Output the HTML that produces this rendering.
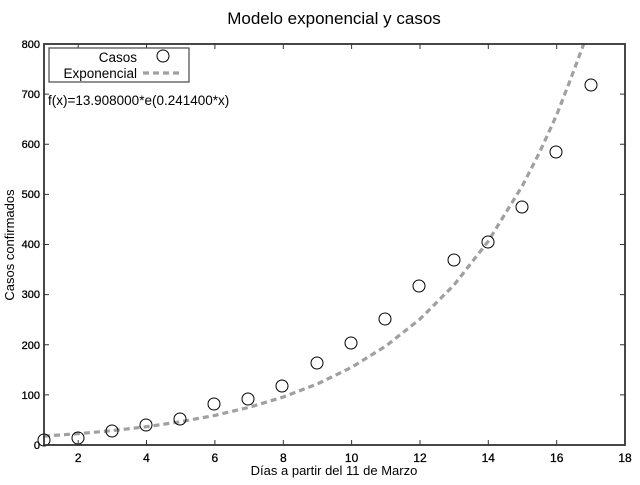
<!DOCTYPE html>
<html><head><meta charset="utf-8"><style>
body{margin:0;background:#fff;}
svg text{font-family:"Liberation Sans",sans-serif;}
</style></head><body>
<svg width="640" height="480" viewBox="0 0 640 480" xmlns="http://www.w3.org/2000/svg">
<rect width="640" height="480" fill="#fff"/>
<text x="334" y="24" font-size="17" text-anchor="middle">Modelo exponencial y casos</text>
<polyline fill="none" stroke="#a0a0a0" stroke-width="3.2" stroke-dasharray="6,4" points="44,436.1 78.2,433.7 112.4,430.6 146.5,426.7 180.7,421.7 214.9,415.4 249.1,407.3 283.3,397 317.4,383.9 351.6,367.3 385.8,346.1 420,319.1 454.2,284.8 488.3,241.1 522.5,185.6 539.6,152.3 556.7,114.8 570.4,79.7 583.7,44"/>
<g fill="none" stroke="#000" stroke-width="1">
<circle cx="44" cy="440" r="6"/><circle cx="78" cy="438" r="6"/><circle cx="112" cy="431" r="6"/><circle cx="146" cy="425" r="6"/><circle cx="180" cy="419" r="6"/><circle cx="214" cy="404" r="6"/><circle cx="248" cy="399" r="6"/><circle cx="282" cy="386" r="6"/><circle cx="317" cy="363" r="6"/><circle cx="351" cy="343" r="6"/><circle cx="385" cy="319" r="6"/><circle cx="419" cy="286" r="6"/><circle cx="454" cy="260" r="6"/><circle cx="488" cy="242" r="6"/><circle cx="522" cy="207" r="6"/><circle cx="556" cy="152" r="6"/><circle cx="591" cy="85" r="6"/>
</g>
<rect x="44" y="44" width="581" height="401" fill="none" stroke="#333" stroke-width="1.8"/>
<g stroke="#333" stroke-width="1">
<path d="M78.2,445v-5M146.5,445v-5M214.9,445v-5M283.3,445v-5M351.6,445v-5M420,445v-5M488.3,445v-5M556.7,445v-5M78.2,44v5M146.5,44v5M214.9,44v5M283.3,44v5M351.6,44v5M420,44v5M488.3,44v5M556.7,44v5"/>
<path d="M44,394.9h5M44,344.8h5M44,294.6h5M44,244.5h5M44,194.4h5M44,144.3h5M44,94.1h5M625,394.9h-5M625,344.8h-5M625,294.6h-5M625,244.5h-5M625,194.4h-5M625,144.3h-5M625,94.1h-5"/>
</g>
<g font-size="12" text-anchor="middle" stroke="#000" stroke-width="0.3">
<text x="78.2" y="462">2</text><text x="146.5" y="462">4</text><text x="214.9" y="462">6</text><text x="283.3" y="462">8</text><text x="351.6" y="462">10</text><text x="420" y="462">12</text><text x="488.3" y="462">14</text><text x="556.7" y="462">16</text><text x="625" y="462">18</text>
</g>
<g font-size="11" text-anchor="end" stroke="#000" stroke-width="0.3">
<text x="40" y="449">0</text><text x="40" y="399">100</text><text x="40" y="349">200</text><text x="40" y="298">300</text><text x="40" y="248">400</text><text x="40" y="198">500</text><text x="40" y="148">600</text><text x="40" y="98">700</text><text x="40" y="48">800</text>
</g>
<text x="334" y="475" font-size="13" text-anchor="middle">Días a partir del 11 de Marzo</text>
<text transform="translate(14,245) rotate(-90)" font-size="13" text-anchor="middle">Casos confirmados</text>
<rect x="49" y="48" width="140" height="34" fill="#fff" stroke="#555" stroke-width="1.3"/>
<text x="137" y="62" font-size="13.5" text-anchor="end">Casos</text>
<circle cx="163" cy="56" r="6" fill="none" stroke="#000"/>
<text x="137" y="78" font-size="13.5" text-anchor="end">Exponencial</text>
<line x1="143" y1="73" x2="183" y2="73" stroke="#a0a0a0" stroke-width="3.2" stroke-dasharray="6,4"/>
<text x="48" y="105" font-size="13.5">f(x)=13.908000*e(0.241400*x)</text>
</svg>
</body></html>
